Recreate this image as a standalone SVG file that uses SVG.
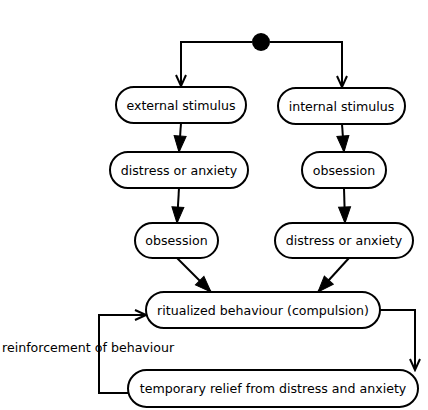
<svg xmlns="http://www.w3.org/2000/svg" width="428" height="410" viewBox="0 0 428 410">
<style>
.node rect{fill:#fff;stroke:#000;stroke-width:2}
.node text{font-family:"DejaVu Sans",sans-serif;font-size:12.6px;text-anchor:middle;dominant-baseline:central;fill:#000}
.edge{fill:none;stroke:#000;stroke-width:2}
.lbl{font-family:"DejaVu Sans",sans-serif;font-size:12.6px;fill:#000}
</style>
<defs>
<marker id="open" markerUnits="userSpaceOnUse" markerWidth="16" markerHeight="16" viewBox="-14 -8 16 16" refX="0" refY="0" orient="auto">
<path d="M-11,-5 L0,0 L-11,5" fill="none" stroke="#000" stroke-width="2"/>
</marker>
<marker id="fill" markerUnits="userSpaceOnUse" markerWidth="20" markerHeight="20" viewBox="-18 -10 20 20" refX="0" refY="0" orient="auto">
<path d="M-16,-6 L0,0 L-16,6 Z" fill="#000" stroke="#000" stroke-width="1"/>
</marker>
</defs>
<g id="connectors">
<path class="edge" d="M252,42 H181 V86" marker-end="url(#open)"/>
<path class="edge" d="M270,42 H342 V87" marker-end="url(#open)"/>
<path class="edge" d="M181,123 L179,152" marker-end="url(#fill)"/>
<path class="edge" d="M342,124 L344,152" marker-end="url(#fill)"/>
<path class="edge" d="M179,188 L177,223" marker-end="url(#fill)"/>
<path class="edge" d="M344,188 L345,223" marker-end="url(#fill)"/>
<path class="edge" d="M177,258 L211,292" marker-end="url(#fill)"/>
<path class="edge" d="M349,258 L318,292" marker-end="url(#fill)"/>
<path class="edge" d="M380,310 H415 V370" marker-end="url(#open)"/>
<path class="edge" d="M128,393 H99 V315 H146" marker-end="url(#open)"/>
<text class="lbl" x="2" y="352">reinforcement of behaviour</text>
</g>
<g id="start"><circle cx="261" cy="42" r="9" fill="#000"/></g>
<g id="n1" class="node"><rect x="116" y="87" width="130" height="36" rx="18"/><text x="181" y="105">external stimulus</text></g>
<g id="n2" class="node"><rect x="278" y="88" width="127" height="36" rx="18"/><text x="341.5" y="106">internal stimulus</text></g>
<g id="n3" class="node"><rect x="110" y="152" width="138" height="36" rx="18"/><text x="179" y="170">distress or anxiety</text></g>
<g id="n4" class="node"><rect x="302" y="152" width="84" height="36" rx="18"/><text x="344" y="170">obsession</text></g>
<g id="n5" class="node"><rect x="135" y="223" width="83" height="35" rx="17.5"/><text x="176.5" y="240.5">obsession</text></g>
<g id="n6" class="node"><rect x="275" y="223" width="138" height="35" rx="17.5"/><text x="344" y="240.5">distress or anxiety</text></g>
<g id="n7" class="node"><rect x="146" y="292" width="234" height="36" rx="18"/><text x="263" y="310">ritualized behaviour (compulsion)</text></g>
<g id="n8" class="node"><rect x="128" y="370" width="290" height="37" rx="18.5"/><text x="273" y="388.5">temporary relief from distress and anxiety</text></g>
</svg>
